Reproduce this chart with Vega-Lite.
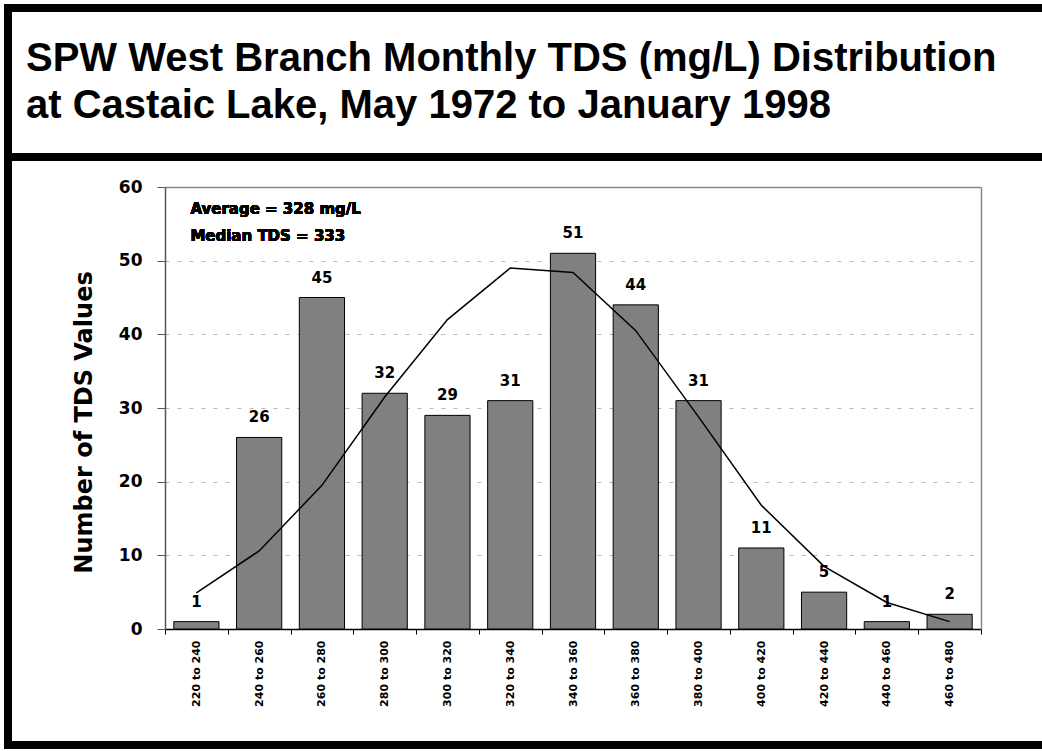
{
  "$schema": "https://vega.github.io/schema/vega-lite/v6.json",
  "background": "white",
  "autosize": {"type": "none"},
  "padding": {"left": 8, "top": 8, "right": -4, "bottom": 6},
  "width": 1038,
  "height": 737,
  "config": {
    "view": {"stroke": "black", "strokeWidth": 8},
    "font": "DejaVu Sans"
  },
  "title": {
    "text": ["SPW West Branch Monthly TDS (mg/L) Distribution", "at Castaic Lake, May 1972 to January 1998"],
    "anchor": "start",
    "frame": "group",
    "orient": "top",
    "offset": -150,
    "dx": 18,
    "baseline": "alphabetic",
    "font": "Liberation Sans",
    "fontSize": 40,
    "fontWeight": "bold",
    "lineHeight": 47,
    "color": "black"
  },
  "data": {
    "values": [
      {"range": "220 to 240", "count": 1, "fit": 4.9},
      {"range": "240 to 260", "count": 26, "fit": 10.6},
      {"range": "260 to 280", "count": 45, "fit": 19.5},
      {"range": "280 to 300", "count": 32, "fit": 31.5},
      {"range": "300 to 320", "count": 29, "fit": 42.0},
      {"range": "320 to 340", "count": 31, "fit": 49.0},
      {"range": "340 to 360", "count": 51, "fit": 48.4},
      {"range": "360 to 380", "count": 44, "fit": 40.5},
      {"range": "380 to 400", "count": 31, "fit": 28.8},
      {"range": "400 to 420", "count": 11, "fit": 16.8},
      {"range": "420 to 440", "count": 5, "fit": 8.5},
      {"range": "440 to 460", "count": 1, "fit": 3.6},
      {"range": "460 to 480", "count": 2, "fit": 1.0}
    ]
  },
  "layer": [
    {
      "mark": {"type": "bar", "width": {"band": 0.72}, "fill": "#808080", "stroke": "black", "strokeWidth": 1},
      "encoding": {
        "x": {
          "field": "range", "type": "nominal", "sort": null,
          "scale": {"range": [157, 973], "paddingInner": 0, "paddingOuter": 0},
          "axis": {
            "orient": "bottom", "offset": -116, "title": null,
            "labelAngle": 270, "labelAlign": "right", "labelBaseline": "middle",
            "labelFont": "DejaVu Sans", "labelFontWeight": "bold", "labelFontSize": 11,
            "labelColor": "black", "labelPadding": 6, "labelOverlap": false,
            "tickBand": "extent", "tickSize": 5, "tickColor": "black",
            "domainColor": "black", "domainWidth": 1.5, "grid": false
          }
        },
        "y": {
          "field": "count", "type": "quantitative",
          "scale": {"domain": [0, 60], "range": [621, 179], "nice": false},
          "axis": {
            "orient": "left", "offset": -157, "values": [0, 10, 20, 30, 40, 50, 60],
            "title": "Number of TDS Values", "titleFont": "DejaVu Sans", "titleFontSize": 24,
            "titleFontWeight": "bold", "titleColor": "black", "titlePadding": 22, "titleY": 414,
            "labelFont": "DejaVu Sans", "labelFontSize": 17, "labelFontWeight": "bold",
            "labelColor": "black", "labelPadding": 15,
            "tickSize": 8, "tickColor": "#555555", "domainColor": "#555555", "domainWidth": 1.5,
            "grid": true, "gridColor": "#b8b8b8", "gridDash": [4, 8], "gridWidth": 1
          }
        }
      }
    },
    {
      "mark": {"type": "line", "color": "black", "strokeWidth": 1.5},
      "encoding": {
        "x": {
          "field": "range", "type": "nominal", "sort": null,
          "axis": {"orient": "top", "offset": -179, "labels": false, "ticks": false, "domain": true, "domainColor": "#888888", "domainWidth": 1.5, "title": null, "grid": false}
        },
        "y": {
          "field": "fit", "type": "quantitative",
          "axis": {"orient": "right", "offset": -65, "labels": false, "ticks": false, "domain": true, "domainColor": "#888888", "domainWidth": 1.5, "title": null, "grid": false}
        }
      }
    },
    {
      "mark": {"type": "text", "baseline": "alphabetic", "dy": -15, "font": "DejaVu Sans", "fontWeight": "bold", "fontSize": 15, "color": "black"},
      "encoding": {
        "x": {"field": "range", "type": "nominal", "sort": null, "axis": null},
        "y": {"field": "count", "type": "quantitative", "axis": null},
        "text": {"field": "count", "type": "quantitative"}
      }
    },
    {
      "mark": {"type": "text", "align": "left", "baseline": "middle", "dx": -6, "font": "DejaVu Sans", "fontWeight": "bold", "fontSize": 15, "color": "black", "text": "Average = 328 mg/L"},
      "encoding": {
        "x": {"datum": "220 to 240", "type": "nominal", "axis": null},
        "y": {"datum": 57, "type": "quantitative", "axis": null}
      }
    },
    {
      "mark": {"type": "text", "align": "left", "baseline": "middle", "dx": -6, "font": "DejaVu Sans", "fontWeight": "bold", "fontSize": 15, "color": "black", "text": "Median TDS = 333"},
      "encoding": {
        "x": {"datum": "220 to 240", "type": "nominal", "axis": null},
        "y": {"datum": 53.3, "type": "quantitative", "axis": null}
      }
    },
    {
      "mark": {"type": "rule", "color": "black", "strokeWidth": 8},
      "encoding": {
        "y": {"datum": 64.07, "type": "quantitative", "axis": null}
      }
    }
  ],
  "resolve": {"axis": {"x": "independent", "y": "independent"}}
}
